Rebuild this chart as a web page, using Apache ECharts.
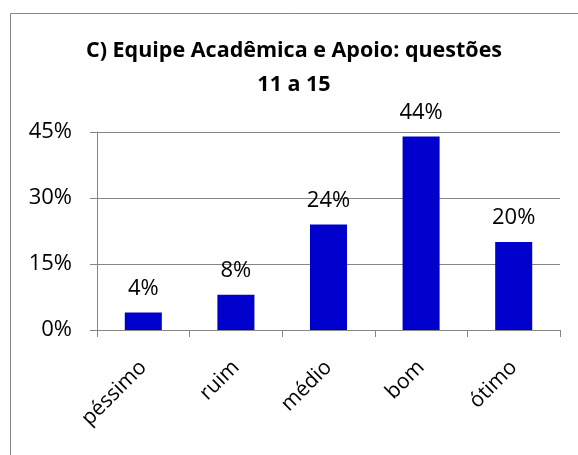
<!DOCTYPE html>
<html>
<head>
<meta charset="utf-8">
<script src="https://cdn.jsdelivr.net/npm/echarts@6/dist/echarts.min.js"></script>
<style>html,body{margin:0;padding:0;background:#fff}#c{width:578px;height:455px}</style>
</head>
<body>
<div id="c"></div>
<script>
var categories = ['péssimo', 'ruim', 'médio', 'bom', 'ótimo'];
var values = [4, 8, 24, 44, 20];
var yTicks = [0, 15, 30, 45];
var titleText = 'C) Equipe Acadêmica e Apoio: questões\n11 a 15';

var chart = echarts.init(document.getElementById('c'), null, {renderer: 'canvas'});
var font = 'Open Sans';
chart.setOption({
  animation: false,
  backgroundColor: '#fff',
  graphic: [{
    type: 'rect', left: 8, top: 11, silent: true,
    shape: {x: 0, y: 0, width: 640, height: 520},
    style: {fill: 'none', stroke: '#868686', lineWidth: 1}
  }],
  title: {
    text: titleText,
    left: 289, top: 29, textAlign: 'center',
    textStyle: {fontFamily: font, fontWeight: 'bold', fontSize: 21.5, lineHeight: 34, color: '#000'}
  },
  grid: {left: 97, right: 18, top: 132, bottom: 125},
  xAxis: {
    type: 'category', data: categories,
    axisLine: {lineStyle: {color: '#868686'}},
    axisTick: {show: true, length: 7, lineStyle: {color: '#868686'}},
    axisLabel: {rotate: 45, margin: 34, fontFamily: font, fontSize: 21, color: '#000'}
  },
  yAxis: {
    type: 'value', min: yTicks[0], max: yTicks[yTicks.length - 1], interval: yTicks[1] - yTicks[0],
    axisLine: {show: true, lineStyle: {color: '#868686'}},
    axisTick: {show: true, length: 7, lineStyle: {color: '#868686'}},
    splitLine: {lineStyle: {color: '#868686'}},
    axisLabel: {formatter: '{value}%', margin: 25, fontFamily: font, fontSize: 22, color: '#000'}
  },
  series: [{
    type: 'bar', data: values, barWidth: '40%',
    itemStyle: {color: '#0000CC'},
    label: {show: true, position: 'top', distance: 13, formatter: '{c}%', fontFamily: font, fontSize: 22, color: '#000'}
  }]
});
</script>
</body>
</html>
